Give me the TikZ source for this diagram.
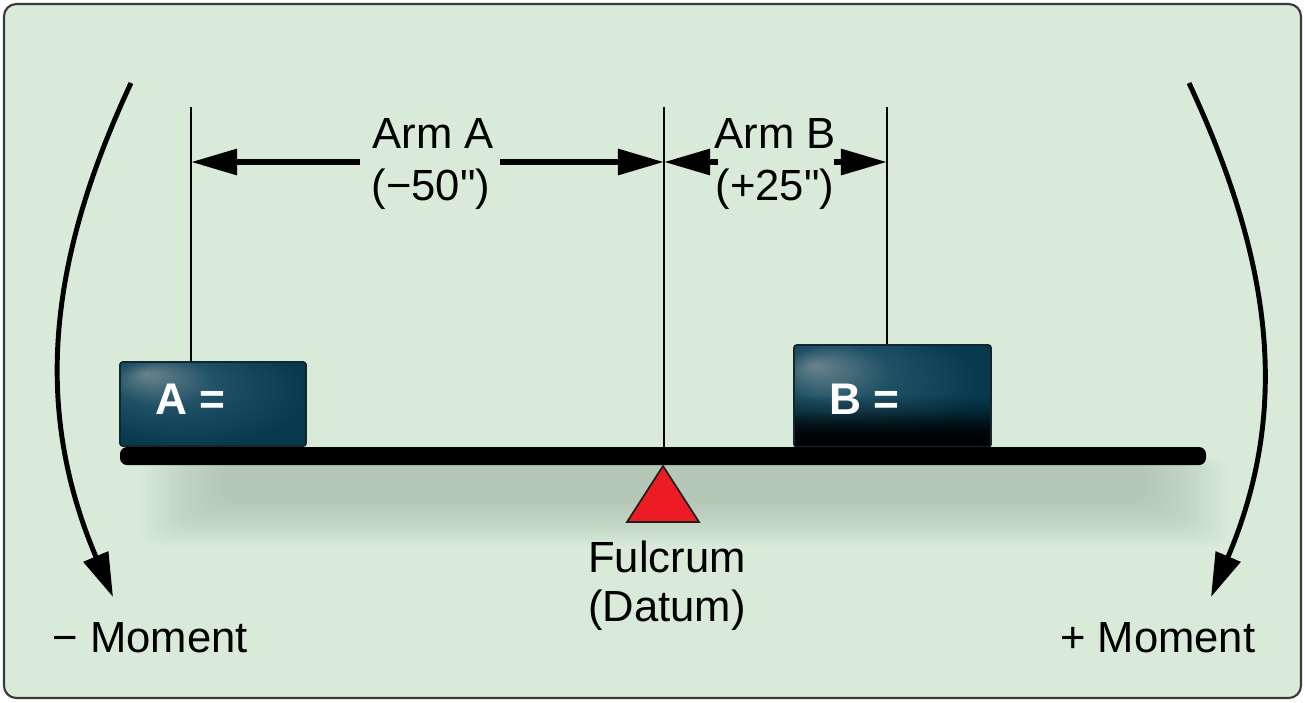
\documentclass[tikz,border=0pt]{standalone}
\usepackage{fontspec}
\setmainfont{Liberation Sans}
\newfontfamily\qfont{Liberation Sans}
\usetikzlibrary{arrows.meta,fadings}
\definecolor{bg}{HTML}{D9EBD8}
\definecolor{framecol}{HTML}{3A3A3A}
\definecolor{boxlight}{HTML}{6A838C}
\definecolor{boxmid}{HTML}{1E5165}
\definecolor{boxdark}{HTML}{073A4E}
\definecolor{boxedge}{HTML}{14262E}
\definecolor{shadowcol}{HTML}{A2B7A8}
\definecolor{fulcrumred}{HTML}{ED1C24}
\definecolor{fulcrumedge}{HTML}{231F20}
\pgfdeclareradialshading{boxAshade}{\pgfpoint{-18bp}{18bp}}{color(0bp)=(boxlight); color(14bp)=(boxmid); color(32bp)=(boxdark); color(50bp)=(boxdark)}
\pgfdeclareradialshading{boxBshade}{\pgfpoint{-20bp}{15bp}}{color(0bp)=(boxlight); color(14bp)=(boxmid); color(30bp)=(boxdark); color(50bp)=(boxdark)}
\newcommand{\sq}{{\qfont"}}
\begin{document}
\begin{tikzpicture}[x=0.01cm,y=-0.01cm,
  every node/.style={font=\fontsize{12.4}{15}\selectfont, inner sep=0pt},
  lbl/.style={anchor=base},
  weightlbl/.style={anchor=base west, text=white, font=\fontsize{12.6}{15}\selectfont\bfseries},
  guide/.style={line width=0.6pt, black},
  dimarrow/.style={line width=1.7pt, -{Triangle[length=0.46cm,width=0.25cm]}},
  momentarrow/.style={line width=1.4pt, -{Triangle[length=0.44cm,width=0.26cm]}},
  weightbox/.style={draw=boxedge, line width=0.5pt, rounded corners=0.8pt}]
\useasboundingbox (0,0) rectangle (1305,702);
% frame
\draw[fill=bg, draw=framecol, line width=0.6pt, rounded corners=3.5pt] (4,4) rectangle (1301,698);
% shadow under beam
\foreach \i in {0,...,13} {
  \fill[shadowcol, opacity=0.06, rounded corners=5pt] ({140+\i*6},{458+\i*0.5}) rectangle ({1228-\i*6},{545-\i*3.2});
}
% coordinates
\coordinate (gA1) at (191,107); \coordinate (gA2) at (191,362);
\coordinate (gC1) at (664,107); \coordinate (gC2) at (664,447);
\coordinate (gB1) at (887,107); \coordinate (gB2) at (887,345);
% guide lines
\draw[guide] (gA1) -- (gA2);
\draw[guide] (gC1) -- (gC2);
\draw[guide] (gB1) -- (gB2);
% weight A
\begin{scope}
  \clip[rounded corners=0.8pt] (120,362) rectangle (306,446);
  \shade[shading=boxAshade] (120,362) rectangle (306,446);
\end{scope}
\draw[weightbox] (120,362) rectangle (306,446);
\node[weightlbl] (wA) at (155,414) {A =};
% weight B
\begin{scope}
  \clip[rounded corners=0.8pt] (794,345) rectangle (991,447);
  \shade[shading=boxBshade] (794,345) rectangle (991,447);
  \fill[black, path fading=north] (794,448) rectangle (991,395);
  \fill[black, path fading=north] (794,448) rectangle (991,412);
\end{scope}
\draw[weightbox] (794,345) rectangle (991,447);
\node[weightlbl] (wB) at (829,414) {B =};
% beam
\fill[black, rounded corners=2pt] (120,447) rectangle (1206,465);
% fulcrum
\coordinate (fT) at (663,466); \coordinate (fL) at (627,522); \coordinate (fR) at (699,522);
\draw[fill=fulcrumred, draw=fulcrumedge, line width=0.5pt] (fT) -- (fR) -- (fL) -- cycle;
% arm labels
\node[lbl] (armA) at (433,148) {Arm A};
\node[lbl] (armAv) at (431,200) {(−50\sq)};
\node[lbl] (armB) at (775,148) {Arm B};
\node[lbl] (armBv) at (775,200) {(+25\sq)};
% dimension arrows
\coordinate (aAs) at (360,162); \coordinate (aAe) at (500,162);
\draw[dimarrow] (aAs) -- (gA1 |- aAs);
\draw[dimarrow] (aAe) -- (gC1 |- aAe);
\coordinate (aBs) at (718,162); \coordinate (aBe) at (834,162);
\draw[dimarrow] (aBs) -- (gC1 |- aBs);
\draw[dimarrow] (aBe) -- (gB1 |- aBe);
% fulcrum label
\node[lbl] (fulc) at (667,572) {Fulcrum};
\node[lbl] (datum) at (667,621) {(Datum)};
% moment arrows
\coordinate (mL1) at (131,83); \coordinate (mL2) at (113,597);
\coordinate (mR1) at (1189,83); \coordinate (mR2) at (1211,597);
\draw[momentarrow] (mL1) to[out=245,in=113] (mL2);
\draw[momentarrow] (mR1) to[out=-65,in=67] (mR2);
\node[lbl, anchor=base west] (mLtxt) at (52,652) {− Moment};
\node[lbl, anchor=base east] (mRtxt) at (1256,652) {+ Moment};
\end{tikzpicture}
\end{document}
